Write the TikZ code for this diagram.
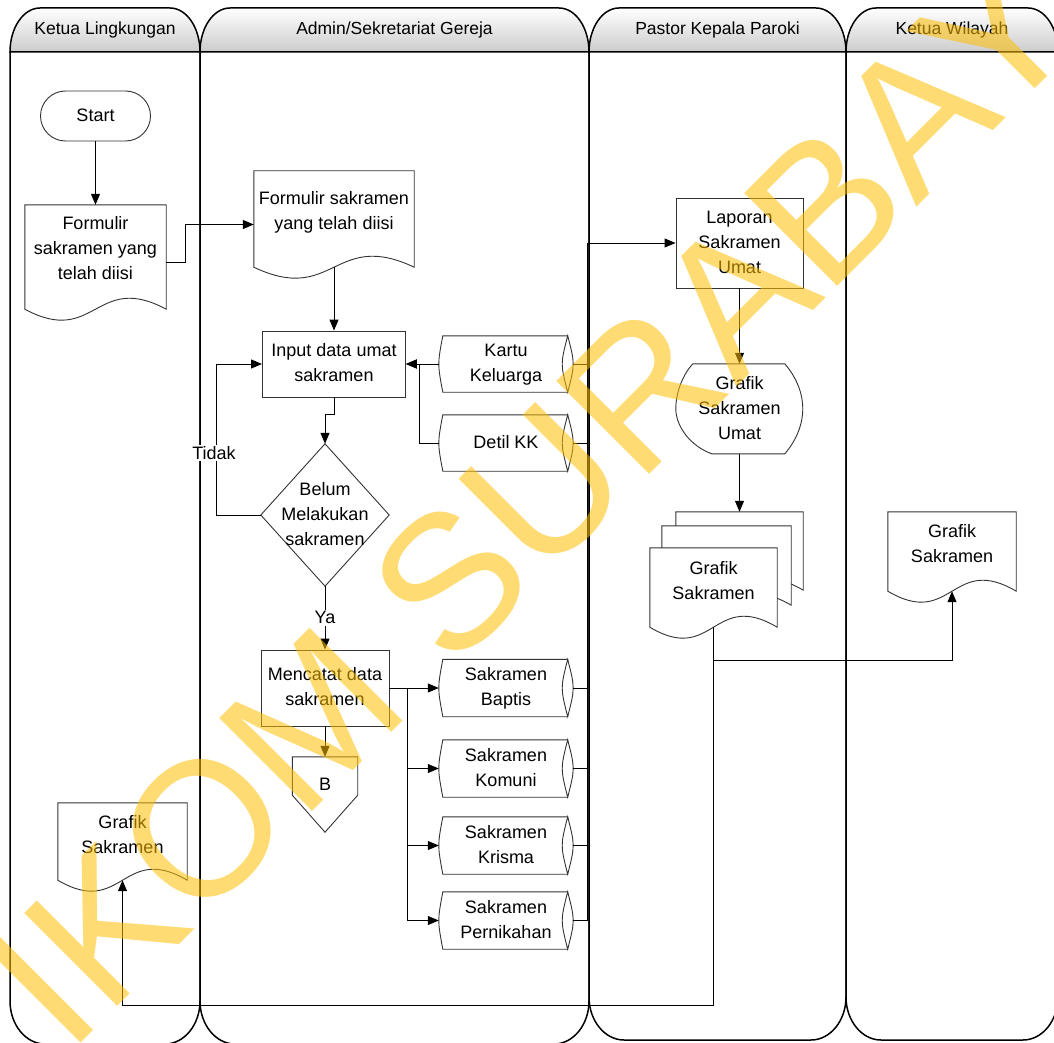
\documentclass[tikz,border=0pt]{standalone}
\usepackage{fontspec}
\setmainfont{Liberation Sans}
\usetikzlibrary{arrows.meta,calc}
\definecolor{wm}{RGB}{255,190,0}
\pgfdeclarelayer{bg}
\pgfsetlayers{bg,main}
\newcommand\tx[2][0]{\raisebox{\dimexpr#1pt-4.4pt\relax}[0pt][0pt]{\begin{tabular}{@{}c@{}}#2\end{tabular}}}
\newcommand\docout[1]{\path[shp] (#1.north west) -- (#1.north east) -- ($(#1.south east)+(0,-11)$) .. controls ($(#1.south)+(0,-49)$) and ($(#1.south)+(0,27)$) .. ($(#1.south west)+(0,-11)$) -- cycle;}
\newcommand\stout[1]{%
  \path[shp] ($(#1.north west)+(4,0)$) -- ($(#1.north east)+(-5.5,0)$) -- ($(#1.south east)+(-5.5,0)$) -- ($(#1.south west)+(4,0)$) .. controls ($(#1.west)+(-1.33,0)$) .. ($(#1.north west)+(4,0)$) -- cycle;
  \path[shp] ($(#1.north east)+(-5.5,0)$) .. controls ($(#1.east)+(-12.8,0)$) .. ($(#1.south east)+(-5.5,0)$) .. controls ($(#1.east)+(1.8,0)$) .. ($(#1.north east)+(-5.5,0)$) -- cycle;}
\newcommand\lanebody[3]{\draw[lane] (#1,52) -- (#1,#3-43) .. controls (#1,#3-19.4) and (#1+15.7,#3) .. (#1+35,#3) -- (#2-35,#3) .. controls (#2-15.7,#3) and (#2,#3-19.4) .. (#2,#3-43) -- (#2,52);}
\newcommand\lanehead[4]{\shade[hdr] (#1,52) .. controls (#1,27.7) and (#1+13.4,8) .. (#1+30,8) -- (#2-30,8) .. controls (#2-13.4,8) and (#2,27.7) .. (#2,52) -- cycle;
  \node[htxt] (#3) at ({(#1+#2)/2},30) {#4};}
\begin{document}
\begin{tikzpicture}[x=1pt,y=-1pt,
  shp/.style={draw=black!80,line width=0.9pt,fill=white},
  box/.style={rectangle,inner sep=0pt,font=\fontsize{18}{25}\selectfont},
  rbox/.style={box,draw=black!80,line width=0.9pt,fill=white},
  ln/.style={draw=black,line width=1pt},
  arr/.style={ln,-{Triangle[length=11pt,width=9pt]}},
  lane/.style={draw=black,line width=1.5pt},
  hdr/.style={lane,top color=white,bottom color=black!20},
  htxt/.style={inner sep=0pt,font=\fontsize{17.5}{21}\selectfont},
  lbl/.style={fill=white,inner sep=1.5pt,font=\fontsize{18}{22}\selectfont}]
\useasboundingbox (0,0) rectangle (1054,1043);

% ---------- nodes ----------
\node[rbox,rounded corners=25pt,minimum width=110pt,minimum height=50pt] (start) at (95.5,116) {\tx{Start}};
\node[box,minimum width=141pt,minimum height=115pt] (d1) at (95.5,262.5) {\tx[13]{Formulir\\sakramen yang\\telah diisi}};
\node[box,minimum width=160pt,minimum height=107pt] (d2) at (334,224.5) {\tx[13]{Formulir sakramen\\yang telah diisi}};
\node[rbox,minimum width=143pt,minimum height=66pt] (inp) at (334,364) {\tx{Input data umat\\sakramen}};
\node[box,minimum width=134pt,minimum height=56pt] (kk) at (506,364) {\tx{Kartu\\Keluarga}};
\node[box,minimum width=134pt,minimum height=56pt] (dkk) at (506,443) {\tx{Detil KK}};
\node[box,minimum width=128pt,minimum height=142pt] (dia) at (325,515) {\tx{Belum\\Melakukan\\sakramen}};
\node[rbox,minimum width=128pt,minimum height=76pt] (men) at (325,688) {\tx{Mencatat data\\sakramen}};
\node[box,minimum width=65pt,minimum height=75pt] (B) at (325,794.5) {\tx[9.5]{B}};
\node[box,minimum width=134pt,minimum height=57pt] (bap) at (506,688) {\tx{Sakramen\\Baptis}};
\node[box,minimum width=134pt,minimum height=57pt] (kom) at (506,768.5) {\tx{Sakramen\\Komuni}};
\node[box,minimum width=134pt,minimum height=57pt] (kri) at (506,845.5) {\tx{Sakramen\\Krisma}};
\node[box,minimum width=134pt,minimum height=57pt] (per) at (506,920.5) {\tx{Sakramen\\Pernikahan}};
\node[rbox,minimum width=127pt,minimum height=90pt] (lap) at (739.5,243) {\tx{Laporan\\Sakramen\\Umat}};
\node[box,minimum width=127pt,minimum height=90pt] (disp) at (739.5,409) {\tx{Grafik\\Sakramen\\Umat}};
\node[box,minimum width=127pt,minimum height=89pt] (md1) at (739.5,556.5) {};
\node[box,minimum width=129pt,minimum height=90pt] (md2) at (726.5,571) {};
\node[box,minimum width=127pt,minimum height=90pt] (md3) at (713.5,593) {\tx[11]{Grafik\\Sakramen}};
\node[box,minimum width=128pt,minimum height=90pt] (kw) at (952,557) {\tx[12.5]{Grafik\\Sakramen}};
\node[box,minimum width=129pt,minimum height=88pt] (g1) at (122.5,847) {\tx[11.5]{Grafik\\Sakramen}};

% ---------- background: lanes and shape outlines ----------
\begin{pgfonlayer}{bg}
\lanebody{10}{200}{1044}
\lanebody{200}{589}{1044}
\lanebody{589}{846}{1040}
\lanebody{846}{1058}{1040}
\lanehead{10}{200}{h1}{Ketua Lingkungan}
\lanehead{200}{589}{h2}{Admin/Sekretariat Gereja}
\lanehead{589}{846}{h3}{Pastor Kepala Paroki}
\lanehead{846}{1058}{h4}{Ketua Wilayah}
\docout{d1}
\docout{d2}
\stout{kk}
\stout{dkk}
\stout{bap}
\stout{kom}
\stout{kri}
\stout{per}
\path[shp] (dia.north) -- (dia.east) -- (dia.south) -- (dia.west) -- cycle;
\path[shp] (B.north west) -- (B.north east) -- ($(B.south east)+(0,-37)$) -- (B.south) -- ($(B.south west)+(0,-37)$) -- cycle;
\begin{scope}[shift={(disp.north west)}]
\path[shp] (17,0) -- (109,0) .. controls (121,14) and (127,30) .. (127,45) .. controls (127,60) and (121,76) .. (109,90) -- (36,90) .. controls (14,82) and (0,62) .. (0,45) .. controls (0,30) and (6,12) .. (17,0) -- cycle;
\end{scope}
\docout{md1}
\docout{md2}
\docout{md3}
\docout{kw}
\docout{g1}
\end{pgfonlayer}

% ---------- connectors ----------
\coordinate (bus) at (587.5,243);
\coordinate (j1) at (713.5,660);
\coordinate (j2) at (713.5,1005);
\draw[arr] (start.south) -- (d1.north);
\draw[arr] (d1.east) -- ++(19,0) |- (d2.west);
\draw[arr] ($(d2.south)+(0,-11)$) -- (inp.north);
\draw[arr] (kk.west) -- (inp.east);
\draw[arr] (dkk.west) -- ++(-19,0) |- (inp.east);
\draw[arr] (inp.south) -- ++(0,17) -| (dia.north);
\draw[arr] (dia.west) -- ++(-44,0) |- (inp.west);
\node[lbl] (tidak) at (214,453) {Tidak};
\draw[arr] (dia.south) -- (men.north) node[lbl,midway] (ya) {Ya};
\draw[arr] (men.south) -- (B.north);
\draw[arr] (men.east) -- (bap.west);
\draw[arr] (men.east) -- ++(18,0) |- (kom.west);
\draw[arr] (men.east) -- ++(18,0) |- (kri.west);
\draw[arr] (men.east) -- ++(18,0) |- (per.west);
\draw[ln] (kk.east) -- (kk.east -| bus);
\draw[ln] (dkk.east) -- (dkk.east -| bus);
\draw[ln] (bap.east) -- (bap.east -| bus);
\draw[ln] (kom.east) -- (kom.east -| bus);
\draw[ln] (kri.east) -- (kri.east -| bus);
\draw[ln] (per.east) -| (bus);
\draw[arr] (bus) -- (lap.west);
\draw[arr] (lap.south) -- (disp.north);
\draw[arr] (disp.south) -- (md1.north);
\draw[arr] ($(md3.south)+(0,-11)$) -- (j1) -| ($(kw.south)+(0,-11)$);
\draw[arr] (j1) -- (j2) -| ($(g1.south)+(0,-11)$);

% ---------- watermark ----------
\node[anchor=base west,rotate=45,inner sep=0pt,text=wm,text opacity=0.55,font=\fontsize{191}{191}\selectfont] (wmk) at (-104,1228) {STIKOM SURABAYA};
\end{tikzpicture}
\end{document}
